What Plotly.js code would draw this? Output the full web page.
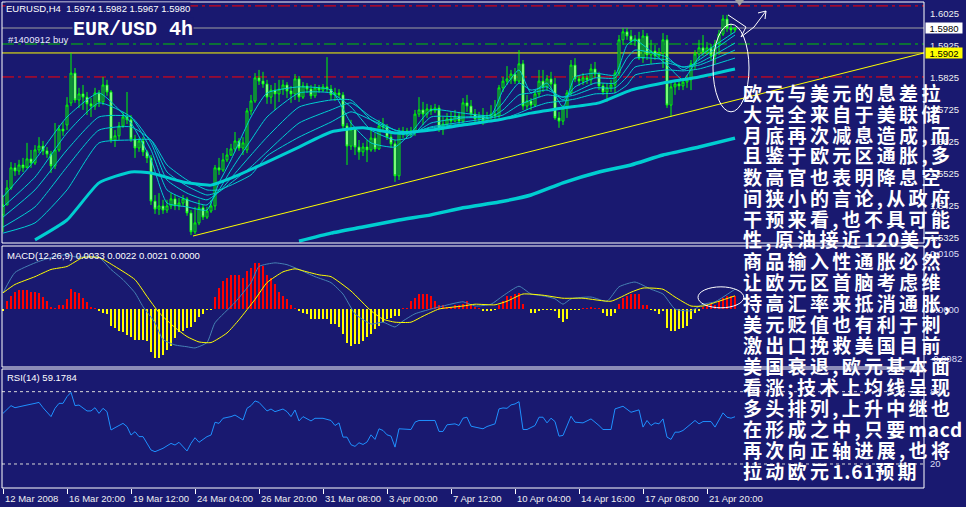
<!DOCTYPE html>
<html><head><meta charset="utf-8">
<script src="https://cdn.plot.ly/plotly-3.0.1.min.js"></script>
<style>
html,body{margin:0;padding:0;background:#191970;overflow:hidden;}
#chart{width:966px;height:507px;}
text.annotation-text[style*="CJK"]{letter-spacing:3.3px;}
</style></head><body><div id="chart"></div>
<script>
// ---------------- DATA ----------------
const opens = [1.5396,1.5427,1.5480,1.5543,1.5533,1.5552,1.5543,1.5571,1.5558,1.5599,
1.5611,1.5596,1.5586,1.5549,1.5599,1.5664,1.5677,1.5746,1.5839,1.5755,
1.5774,1.5764,1.5743,1.5736,1.5777,1.5749,1.5802,1.5780,1.5630,1.5643,
1.5674,1.5702,1.5693,1.5633,1.5605,1.5627,1.5593,1.5574,1.5439,1.5414,
1.5424,1.5411,1.5424,1.5446,1.5424,1.5433,1.5446,1.5402,1.5343,1.5371,
1.5418,1.5389,1.5408,1.5424,1.5543,1.5536,1.5568,1.5583,1.5602,1.5627,
1.5605,1.5599,1.5721,1.5752,1.5824,1.5814,1.5805,1.5764,1.5786,1.5774,
1.5789,1.5802,1.5783,1.5774,1.5821,1.5764,1.5799,1.5789,1.5768,1.5793,
1.5786,1.5796,1.5789,1.5771,1.5777,1.5771,1.5674,1.5611,1.5664,1.5608,
1.5593,1.5608,1.5599,1.5636,1.5602,1.5674,1.5671,1.5639,1.5618,1.5518,
1.5652,1.5658,1.5649,1.5658,1.5711,1.5724,1.5711,1.5727,1.5721,1.5730,
1.5664,1.5680,1.5696,1.5689,1.5705,1.5689,1.5746,1.5736,1.5711,1.5696,
1.5705,1.5689,1.5702,1.5711,1.5705,1.5793,1.5814,1.5821,1.5836,1.5814,
1.5868,1.5736,1.5752,1.5739,1.5774,1.5814,1.5796,1.5821,1.5805,1.5699,
1.5689,1.5730,1.5777,1.5864,1.5821,1.5814,1.5824,1.5818,1.5852,1.5836,
1.5799,1.5780,1.5793,1.5802,1.5839,1.5943,1.5968,1.5955,1.5939,1.5946,
1.5886,1.5955,1.5896,1.5908,1.5893,1.5902,1.5943,1.5739,1.5796,1.5805,
1.5799,1.5811,1.5818,1.5868,1.5899,1.5918,1.5905,1.5918,1.5893,1.5930,
1.5961,1.6008,1.5980,1.5974];
const closes = [1.5427,1.5480,1.5543,1.5533,1.5552,1.5543,1.5571,1.5558,1.5599,1.5611,
1.5596,1.5586,1.5549,1.5599,1.5664,1.5658,1.5739,1.5839,1.5755,1.5774,
1.5764,1.5743,1.5736,1.5777,1.5749,1.5802,1.5780,1.5630,1.5643,1.5674,
1.5702,1.5693,1.5633,1.5605,1.5627,1.5593,1.5574,1.5439,1.5414,1.5424,
1.5411,1.5424,1.5446,1.5424,1.5433,1.5446,1.5402,1.5343,1.5371,1.5418,
1.5389,1.5408,1.5424,1.5543,1.5536,1.5568,1.5583,1.5602,1.5627,1.5605,
1.5621,1.5721,1.5752,1.5824,1.5814,1.5805,1.5764,1.5786,1.5774,1.5789,
1.5802,1.5783,1.5774,1.5821,1.5764,1.5799,1.5789,1.5768,1.5793,1.5786,
1.5796,1.5789,1.5771,1.5777,1.5771,1.5674,1.5611,1.5664,1.5608,1.5593,
1.5608,1.5599,1.5636,1.5602,1.5674,1.5671,1.5639,1.5618,1.5518,1.5652,
1.5658,1.5649,1.5658,1.5711,1.5724,1.5711,1.5727,1.5721,1.5730,1.5664,
1.5680,1.5696,1.5689,1.5705,1.5689,1.5746,1.5736,1.5711,1.5696,1.5705,
1.5689,1.5702,1.5711,1.5705,1.5793,1.5814,1.5821,1.5836,1.5814,1.5868,
1.5736,1.5752,1.5739,1.5774,1.5814,1.5796,1.5821,1.5805,1.5699,1.5689,
1.5730,1.5777,1.5864,1.5821,1.5814,1.5824,1.5818,1.5852,1.5836,1.5799,
1.5780,1.5793,1.5802,1.5839,1.5943,1.5968,1.5955,1.5939,1.5946,1.5886,
1.5955,1.5896,1.5908,1.5893,1.5902,1.5943,1.5739,1.5796,1.5805,1.5799,
1.5811,1.5818,1.5868,1.5899,1.5918,1.5905,1.5918,1.5893,1.5930,1.5961,
1.6008,1.5980,1.5974,1.5980];
const highs = [1.5458,1.5505,1.5561,1.5558,1.5568,1.5574,1.5621,1.5599,1.5614,1.5639,
1.5627,1.5608,1.5596,1.5683,1.5677,1.5686,1.5764,1.5902,1.5855,1.5793,
1.5802,1.5780,1.5761,1.5793,1.5786,1.5827,1.5818,1.5786,1.5661,1.5686,
1.5718,1.5780,1.5708,1.5646,1.5636,1.5639,1.5599,1.5583,1.5458,1.5464,
1.5443,1.5443,1.5464,1.5458,1.5449,1.5458,1.5452,1.5411,1.5421,1.5443,
1.5427,1.5421,1.5443,1.5552,1.5574,1.5589,1.5605,1.5618,1.5655,1.5636,
1.5639,1.5730,1.5771,1.5839,1.5849,1.5843,1.5818,1.5802,1.5808,1.5818,
1.5818,1.5811,1.5799,1.5836,1.5830,1.5811,1.5808,1.5802,1.5805,1.5802,
1.5805,1.5889,1.5802,1.5793,1.5789,1.5780,1.5683,1.5693,1.5671,1.5630,
1.5621,1.5630,1.5671,1.5652,1.5693,1.5699,1.5680,1.5652,1.5630,1.5668,
1.5671,1.5668,1.5671,1.5724,1.5764,1.5749,1.5743,1.5739,1.5743,1.5739,
1.5702,1.5714,1.5718,1.5724,1.5718,1.5761,1.5771,1.5755,1.5727,1.5718,
1.5730,1.5718,1.5739,1.5755,1.5802,1.5827,1.5861,1.5849,1.5855,1.5911,
1.5880,1.5771,1.5761,1.5786,1.5849,1.5849,1.5833,1.5843,1.5824,1.5718,
1.5739,1.5786,1.5880,1.5886,1.5833,1.5839,1.5833,1.5868,1.5874,1.5843,
1.5808,1.5805,1.5818,1.5849,1.5958,1.5980,1.5980,1.5974,1.5958,1.5968,
1.5974,1.5964,1.5943,1.5927,1.5918,1.5964,1.5958,1.5818,1.5818,1.5818,
1.5824,1.5833,1.5880,1.5911,1.5943,1.5958,1.5936,1.5930,1.5943,1.5974,
1.6021,1.6021,1.5993,1.5982];
const lows = [1.5343,1.5427,1.5474,1.5518,1.5521,1.5530,1.5549,1.5543,1.5552,1.5589,
1.5583,1.5574,1.5527,1.5539,1.5593,1.5643,1.5661,1.5736,1.5746,1.5730,
1.5724,1.5708,1.5702,1.5724,1.5733,1.5739,1.5768,1.5621,1.5608,1.5630,
1.5668,1.5680,1.5624,1.5574,1.5593,1.5580,1.5558,1.5427,1.5399,1.5396,
1.5399,1.5402,1.5414,1.5411,1.5411,1.5424,1.5393,1.5333,1.5336,1.5364,
1.5380,1.5383,1.5402,1.5411,1.5521,1.5530,1.5561,1.5580,1.5593,1.5596,
1.5583,1.5589,1.5708,1.5746,1.5802,1.5793,1.5743,1.5743,1.5724,1.5749,
1.5771,1.5761,1.5746,1.5755,1.5749,1.5758,1.5777,1.5758,1.5761,1.5777,
1.5780,1.5780,1.5755,1.5752,1.5761,1.5661,1.5552,1.5599,1.5583,1.5568,
1.5580,1.5561,1.5593,1.5593,1.5599,1.5655,1.5630,1.5605,1.5499,1.5505,
1.5636,1.5639,1.5639,1.5643,1.5702,1.5677,1.5699,1.5708,1.5714,1.5655,
1.5646,1.5671,1.5677,1.5686,1.5677,1.5683,1.5718,1.5699,1.5683,1.5680,
1.5677,1.5683,1.5693,1.5696,1.5699,1.5780,1.5802,1.5805,1.5805,1.5808,
1.5724,1.5724,1.5724,1.5733,1.5764,1.5780,1.5786,1.5786,1.5693,1.5668,
1.5677,1.5699,1.5771,1.5811,1.5799,1.5802,1.5805,1.5802,1.5824,1.5786,
1.5771,1.5749,1.5780,1.5777,1.5830,1.5927,1.5943,1.5927,1.5924,1.5880,
1.5871,1.5880,1.5868,1.5880,1.5886,1.5855,1.5730,1.5702,1.5771,1.5786,
1.5786,1.5793,1.5786,1.5849,1.5880,1.5893,1.5896,1.5880,1.5868,1.5896,
1.5955,1.5968,1.5961,1.5967];

// moving averages (bar index -> price)
const maIdx = [0,8,16,24,32,37,41,46,51,54,57,62,66,74,82,87,92,98,102,107,115,122,125,129,132,136,140,143,148,153,156,158,166,170,174,183];
const ma1 = [1.5452,1.5568,1.5702,1.5777,1.5683,1.5568,1.5433,1.5421,1.5411,1.5496,1.5568,1.5702,1.5777,1.5796,1.5786,1.5683,1.5621,1.5608,1.5652,1.5724,1.5714,1.5708,1.5786,1.5849,1.5777,1.5808,1.5733,1.5827,1.5839,1.5833,1.5927,1.5943,1.5864,1.5818,1.5889,1.5968];
const ma2 = [1.5421,1.5514,1.5652,1.5746,1.5702,1.5599,1.5474,1.5443,1.5427,1.5474,1.5536,1.5630,1.5702,1.5777,1.5777,1.5733,1.5661,1.5630,1.5639,1.5702,1.5702,1.5708,1.5746,1.5808,1.5786,1.5796,1.5755,1.5796,1.5824,1.5824,1.5886,1.5911,1.5889,1.5849,1.5880,1.5958];
const ma3 = [1.5389,1.5474,1.5599,1.5702,1.5702,1.5621,1.5505,1.5464,1.5443,1.5468,1.5511,1.5583,1.5639,1.5733,1.5755,1.5755,1.5693,1.5652,1.5646,1.5683,1.5699,1.5702,1.5724,1.5771,1.5777,1.5786,1.5764,1.5780,1.5808,1.5808,1.5855,1.5886,1.5880,1.5858,1.5871,1.5933];
const ma4 = [1.5358,1.5421,1.5546,1.5661,1.5671,1.5630,1.5530,1.5486,1.5458,1.5468,1.5496,1.5546,1.5593,1.5683,1.5724,1.5746,1.5702,1.5661,1.5652,1.5671,1.5686,1.5699,1.5708,1.5739,1.5755,1.5771,1.5764,1.5771,1.5793,1.5793,1.5827,1.5858,1.5871,1.5858,1.5864,1.5911];
const ma5 = [1.5339,1.5371,1.5474,1.5621,1.5630,1.5630,1.5552,1.5505,1.5474,1.5474,1.5489,1.5521,1.5580,1.5639,1.5686,1.5718,1.5693,1.5661,1.5655,1.5668,1.5680,1.5689,1.5696,1.5714,1.5730,1.5746,1.5752,1.5758,1.5774,1.5777,1.5802,1.5833,1.5849,1.5846,1.5852,1.5886];
const bandIdx = [8,16,24,32,37,45,52,57,66,74,82,90,98,107,115,124,132,140,149,157,165,174,183];
const bandVal = [1.5318,1.5380,1.5496,1.5530,1.5527,1.5499,1.5489,1.5511,1.5561,1.5608,1.5655,1.5668,1.5652,1.5661,1.5677,1.5693,1.5714,1.5730,1.5746,1.5786,1.5808,1.5827,1.5852];
const longIdx = [74,82,90,99,107,115,124,132,140,149,157,165,174,183];
const longVal = [1.5314,1.5339,1.5358,1.5380,1.5396,1.5418,1.5436,1.5458,1.5496,1.5530,1.5552,1.5583,1.5608,1.5636];

// drawn objects
const trendX = [47.5, 230.25];
const trendY = [1.5330, 1.5902];
const levelPrices = [1.6049, 1.5980, 1.5930, 1.5902, 1.5827];
const arrowX = [181.25, 185.75, 184.5, 187.75, 190.75];
const arrowY = [1.6021, 1.5983, 1.5952, 1.5983, 1.6033];
const arrowHeadX = [188.75, 190.75, 190.5];
const arrowHeadY = [1.6027, 1.6033, 1.6008];

// MACD histogram
const hist = [-0.0004,0.0013,0.0022,0.0029,0.0032,0.0032,0.0032,0.0029,0.0029,0.0027,
0.0020,0.0013,0.0003,0.0001,0.0006,0.0007,0.0017,0.0034,0.0029,0.0027,
0.0018,0.0011,0.0003,0.0001,-0.0004,-0.0007,-0.0008,-0.0029,-0.0032,-0.0036,
-0.0039,-0.0043,-0.0047,-0.0051,-0.0051,-0.0051,-0.0054,-0.0071,-0.0081,-0.0082,
-0.0076,-0.0068,-0.0062,-0.0048,-0.0039,-0.0036,-0.0032,-0.0030,-0.0021,-0.0013,
-0.0009,-0.0002,-0.0001,0.0020,0.0035,0.0046,0.0052,0.0057,0.0057,0.0057,
0.0052,0.0063,0.0068,0.0076,0.0076,0.0071,0.0057,0.0052,0.0041,0.0029,
0.0021,0.0016,0.0006,0.0002,-0.0004,-0.0006,-0.0008,-0.0017,-0.0017,-0.0017,
-0.0017,-0.0017,-0.0025,-0.0025,-0.0030,-0.0042,-0.0056,-0.0061,-0.0058,-0.0058,
-0.0053,-0.0047,-0.0042,-0.0033,-0.0028,-0.0022,-0.0017,-0.0015,-0.0011,-0.0011,
0.0002,0.0001,0.0014,0.0019,0.0025,0.0025,0.0025,0.0022,0.0014,0.0006,
0.0006,0.0004,0.0004,0.0006,0.0007,0.0009,0.0013,0.0008,0.0004,0.0002,
-0.0003,-0.0003,-0.0003,-0.0002,0.0006,0.0013,0.0021,0.0022,0.0025,0.0027,
0.0009,0.0000,-0.0006,-0.0007,-0.0003,-0.0002,-0.0001,-0.0001,-0.0003,-0.0015,
-0.0022,-0.0017,-0.0001,-0.0001,-0.0001,0.0002,0.0002,0.0003,0.0002,0.0001,
-0.0006,-0.0011,-0.0011,-0.0006,0.0009,0.0019,0.0022,0.0025,0.0025,0.0025,
0.0007,0.0007,-0.0002,-0.0003,-0.0008,-0.0003,-0.0031,-0.0037,-0.0037,-0.0033,
-0.0031,-0.0028,-0.0017,-0.0006,-0.0003,0.0003,0.0007,0.0008,0.0006,0.0014,
0.0019,0.0021,0.0021,0.0021];
const macdIdx = [0,3,8,12,16,18,24,27,30,33,35,38,40,43,46,48,51,53,58,62,64,68,71,74,78,82,85,88,92,95,98,100,103,107,110,115,118,122,125,129,132,135,138,140,142,147,151,154,158,162,165,168,172,175,178,183];
const macdVal = [0.0027,0.0061,0.0077,0.0086,0.0091,0.0087,0.0086,0.0066,0.0049,0.0027,0.0004,-0.0023,-0.0051,-0.0060,-0.0063,-0.0065,-0.0056,-0.0023,0.0011,0.0044,0.0071,0.0077,0.0074,0.0066,0.0054,0.0044,0.0025,-0.0008,-0.0025,-0.0022,-0.0030,-0.0020,-0.0008,0.0000,0.0005,0.0012,0.0005,0.0008,0.0022,0.0038,0.0025,0.0022,0.0017,0.0008,0.0017,0.0020,0.0013,0.0037,0.0045,0.0033,0.0025,0.0000,-0.0003,0.0008,0.0012,0.0033];
const signalIdx = [0,3,8,12,16,20,24,28,33,36,39,43,46,49,52,56,59,63,66,70,73,76,79,82,87,92,95,98,102,105,109,115,118,123,126,130,135,140,145,152,157,160,165,168,172,175,179,183];
const signalVal = [0.0027,0.0041,0.0054,0.0066,0.0071,0.0086,0.0086,0.0071,0.0049,0.0021,-0.0006,-0.0031,-0.0046,-0.0055,-0.0056,-0.0040,-0.0018,0.0016,0.0044,0.0062,0.0067,0.0062,0.0057,0.0054,0.0030,-0.0003,-0.0017,-0.0022,-0.0022,-0.0012,0.0000,0.0005,0.0008,0.0007,0.0013,0.0025,0.0023,0.0018,0.0018,0.0013,0.0028,0.0035,0.0033,0.0020,0.0005,0.0005,0.0013,0.0022];

// RSI(14)
const rsiIdx = [0,2,3,4,6,8,9,10,12,13,14,15,16,17,18,19,20,21,22,23,24,25,26,27,28,30,31,32,33,34,35,37,38,39,40,42,43,44,45,46,47,48,49,51,52,53,54,55,57,58,60,61,62,63,64,66,67,68,70,71,72,73,74,75,77,78,80,82,83,84,85,86,87,88,89,90,91,92,93,94,95,96,97,98,99,100,102,103,104,106,108,109,110,111,113,114,115,116,117,118,120,121,123,124,125,126,127,128,129,130,131,133,134,135,136,137,138,139,140,142,143,145,147,149,150,152,153,155,156,157,159,160,161,162,163,164,165,166,167,168,169,170,172,173,174,175,176,177,178,180,181,182,183];
const rsiVal = [62.0,68.4,66.7,67.6,68.9,70.3,71.1,66.7,59.3,66.2,70.3,70.3,75.9,79.4,68.4,68.9,66.2,64.0,64.0,66.7,62.0,66.2,63.4,48.2,50.1,53.7,51.0,44.0,46.8,42.7,42.7,31.6,30.2,31.6,33.0,37.1,35.7,38.0,34.4,30.8,37.1,41.8,38.0,42.7,44.0,54.6,53.7,57.9,59.3,60.6,56.5,66.2,68.4,72.3,71.1,64.0,65.6,63.4,65.6,63.4,59.3,64.8,55.7,59.3,55.7,57.9,57.9,56.1,51.9,54.1,42.3,42.3,36.0,34.6,37.6,36.2,38.2,44.2,40.4,49.2,47.8,44.2,43.1,34.0,49.2,49.2,48.6,54.7,56.1,56.1,56.1,47.0,47.0,52.5,53.3,51.9,58.0,58.8,51.4,50.6,49.2,51.1,53.3,65.7,66.5,66.2,69.0,69.8,71.7,48.6,48.6,51.9,58.8,58.8,54.1,58.0,55.2,43.1,43.7,59.6,54.7,54.1,57.4,51.9,48.6,48.6,65.7,67.9,65.7,62.9,64.9,50.6,56.1,51.9,54.1,53.3,57.4,42.3,40.4,46.4,46.4,47.8,53.3,56.1,53.3,55.2,55.2,55.2,50.6,62.4,58.8,58.0,59.2];
const rsiLevels = [80, 20];

// texts / tick labels
const headerText = 'EURUSD,H4\u00a0 1.5974 1.5982 1.5967 1.5980';
const orderText = '#1400912 buy';
const titleText = 'EUR/USD 4h';
const macdText = 'MACD(12,26,9) 0.0033 0.0022 0.0021 0.0000';
const rsiText = 'RSI(14) 59.1784';
const xTickIdx = [0,16,32,48,64,80,96,112,128,144,160,176];
const xTickLabels = ['12 Mar 2008','16 Mar 20:00','19 Mar 12:00','24 Mar 04:00','26 Mar 20:00','31 Mar 08:00','3 Apr 00:00','7 Apr 12:00','10 Apr 04:00','14 Apr 16:00','17 Apr 08:00','21 Apr 20:00'];
const priceTicks = ['1.6025','1.5925','1.5825','1.5725','1.5625','1.5525','1.5425','1.5325'];
const bidLabel = '1.5980';
const orderLabel = '1.5902';
const macdTicks = ['0.0105','0.0000','-0.0082'];
const rsiTicks = ['100','80','20','0'];
const noteLines = ['欧元与美元的息差拉','大完全来自于美联储','月底再次减息造成,而','且鉴于欧元区通胀,多','数高官也表明降息空','间狭小的言论,从政府','干预来看,也不具可能','性,原油接近120美元','商品输入性通胀必然','让欧元区首脑考虑维','持高汇率来抵消通胀,','美元贬值也有利于刺','激出口挽救美国目前','美国衰退,欧元基本面','看涨;技术上均线呈现','多头排列,上升中继也','在形成之中,只要macd','再次向正轴进展,也将','拉动欧元1.61预期'];

// ---------------- LAYOUT HELPERS ----------------
const BG = '#191970';
const W = 966, H = 507, ML = 2, MR = 42, MT = 2, MB = 19;
const PW = W - ML - MR, PH = H - MT - MB;
const px = x => (x - ML) / PW;
const py = y => (H - MB - y) / PH;
const barIdx = opens.map((_, i) => i);
const cyan = '#00ced1';
const uiFont = 'Liberation Sans, Arial, sans-serif';
// latin runs inside the CJK note are drawn tighter (half-width look)
const tightLatin = s => s.replace(/([A-Za-z0-9.]+)/g, '<span style="letter-spacing:0.8px">$1</span>');

const traces = [];
traces.push({type:'candlestick', x:barIdx, open:opens, high:highs, low:lows, close:closes,
  xaxis:'x', yaxis:'y', whiskerwidth:0, hoverinfo:'skip',
  increasing:{line:{color:'#00ff00', width:1}, fillcolor:BG},
  decreasing:{line:{color:'#00ff00', width:1}, fillcolor:'#ffffff'}});
[ma5, ma4, ma3, ma2, ma1].forEach(arr => traces.push({type:'scatter', mode:'lines', x:maIdx, y:arr,
  xaxis:'x', yaxis:'y', hoverinfo:'skip', line:{color:cyan, width:1, shape:'spline', smoothing:0.5}}));
traces.push({type:'scatter', mode:'lines', x:bandIdx, y:bandVal, xaxis:'x', yaxis:'y', hoverinfo:'skip',
  line:{color:cyan, width:3, shape:'spline', smoothing:0.5}});
traces.push({type:'scatter', mode:'lines', x:longIdx, y:longVal, xaxis:'x', yaxis:'y', hoverinfo:'skip',
  line:{color:cyan, width:3.5, shape:'spline', smoothing:0.5}});
traces.push({type:'scatter', mode:'lines', x:trendX, y:trendY, xaxis:'x', yaxis:'y', hoverinfo:'skip',
  line:{color:'#ffff00', width:1}});
traces.push({type:'scatter', mode:'lines', x:arrowX, y:arrowY, xaxis:'x', yaxis:'y', hoverinfo:'skip',
  line:{color:'#ffffff', width:1}});
traces.push({type:'scatter', mode:'lines', x:arrowHeadX, y:arrowHeadY, xaxis:'x', yaxis:'y', hoverinfo:'skip',
  line:{color:'#ffffff', width:1}});

// MACD
traces.push({type:'bar', x:barIdx, y:hist.map(v => v > 0 ? v : null), width:0.3, xaxis:'x', yaxis:'y2',
  marker:{color:'#ff0000', line:{width:0}}, hoverinfo:'skip'});
traces.push({type:'bar', x:barIdx, y:hist.map(v => v < 0 ? v : null), width:0.3, xaxis:'x', yaxis:'y2',
  marker:{color:'#ffff00', line:{width:0}}, hoverinfo:'skip'});
traces.push({type:'scatter', mode:'lines', x:macdIdx, y:macdVal, xaxis:'x', yaxis:'y2', hoverinfo:'skip',
  line:{color:'#4682b4', width:1, shape:'spline', smoothing:0.5}});
traces.push({type:'scatter', mode:'lines', x:signalIdx, y:signalVal, xaxis:'x', yaxis:'y2', hoverinfo:'skip',
  line:{color:'#ffff00', width:1, shape:'spline', smoothing:0.5}});

// RSI
traces.push({type:'scatter', mode:'lines', x:rsiIdx, y:rsiVal, xaxis:'x', yaxis:'y3', hoverinfo:'skip',
  line:{color:'#1e90ff', width:1}});

// ---------------- SHAPES ----------------
const shapes = [];
const dashDot = '12px,4px,3px,4px';
const levelStyles = [
  {color:'#ff0000', width:1, dash:dashDot},
  {color:'#a0a0a0', width:1, dash:'solid'},
  {color:'#00c800', width:1, dash:dashDot},
  {color:'#ffff00', width:1, dash:'solid'},
  {color:'#ff0000', width:1, dash:dashDot}];
levelPrices.forEach((p, k) => shapes.push({type:'line', xref:'paper', x0:0, x1:1, yref:'y', y0:p, y1:p,
  line:levelStyles[k], layer:'below'}));
rsiLevels.forEach(v => shapes.push({type:'line', xref:'paper', x0:0, x1:1, yref:'y3', y0:v, y1:v,
  line:{color:'#d8d8d8', width:1, dash:'3px,3px'}, layer:'below'}));
[[2,243],[246,367],[369,488]].forEach(([t,b]) => shapes.push({type:'rect', xref:'paper', yref:'paper',
  x0:0, x1:1, y0:py(b), y1:py(t), line:{color:'#ffffff', width:1}, fillcolor:'rgba(0,0,0,0)', layer:'above'}));
shapes.push({type:'circle', xref:'x', yref:'y', x0:177.5, x1:186.5, y0:1.5718, y1:1.5992,
  line:{color:'#ffffff', width:1}, layer:'above'});
shapes.push({type:'circle', xref:'x', yref:'y2', x0:173.75, x1:185.2, y0:0.0002, y1:0.0037,
  line:{color:'#ffffff', width:1}, layer:'above'});
shapes.push({type:'path', xref:'paper', yref:'paper',
  path:`M ${px(735)} ${py(0)} L ${px(744)} ${py(0)} L ${px(739.5)} ${py(6)} Z`,
  fillcolor:'#a0a0a0', line:{width:0}, layer:'above'});

// ---------------- ANNOTATIONS ----------------
const ann = [];
const txt = (o) => Object.assign({showarrow:false, xanchor:'left', yanchor:'middle'}, o);
ann.push(txt({xref:'paper', yref:'paper', x:px(5), y:py(9), text:headerText, bgcolor:BG, borderpad:0,
  font:{family:uiFont, size:9.5, color:'#ffffff'}}));
ann.push(txt({xref:'paper', yref:'paper', x:px(6), y:py(39), text:orderText,
  font:{family:uiFont, size:9.5, color:'#e6e6ff'}}));
ann.push(txt({xref:'paper', yref:'paper', x:px(72), y:py(29), text:titleText, bgcolor:BG, borderpad:0,
  font:{family:'Liberation Mono, DejaVu Sans Mono, monospace', size:20, color:'#ffffff', weight:'bold'}}));
ann.push(txt({xref:'paper', yref:'paper', x:px(5), y:py(255), text:macdText,
  font:{family:uiFont, size:9.5, color:'#ffffff'}}));
ann.push(txt({xref:'paper', yref:'paper', x:px(5), y:py(377), text:rsiText,
  font:{family:uiFont, size:9.5, color:'#ffffff'}}));
xTickIdx.forEach((xi, k) => ann.push(txt({xref:'x', yref:'paper', x:xi, y:py(498), text:xTickLabels[k],
  font:{family:uiFont, size:9.5, color:'#f0f0f0'}})));
priceTicks.forEach(t => ann.push(txt({xref:'paper', yref:'y', x:1, xshift:4, y:parseFloat(t), text:t,
  font:{family:uiFont, size:9.5, color:'#f0f0f0'}})));
ann.push(txt({xref:'paper', yref:'y', x:1, xshift:1, y:parseFloat(bidLabel), text:bidLabel, bgcolor:'#ffffff',
  width:36, height:10, borderpad:0, align:'center', font:{family:uiFont, size:9.5, color:'#000000'}}));
ann.push(txt({xref:'paper', yref:'y', x:1, xshift:1, y:parseFloat(orderLabel), text:orderLabel, bgcolor:'#ffff00',
  width:36, height:10, borderpad:0, align:'center', font:{family:uiFont, size:9.5, color:'#000000'}}));
macdTicks.forEach((t, k) => ann.push(txt({xref:'paper', yref:'y2', x:1, xshift:4, y:parseFloat(t), text:t,
  yanchor: k === 0 ? 'top' : 'middle', font:{family:uiFont, size:9.5, color:'#dcdcf5'}})));
rsiTicks.forEach((t, k) => ann.push(txt({xref:'paper', yref:'y3', x:1, xshift:4, y:parseFloat(t), text:t,
  yanchor: k === 0 ? 'top' : (k === rsiTicks.length - 1 ? 'bottom' : 'middle'),
  font:{family:uiFont, size:9.5, color:'#dcdcf5'}})));
noteLines.forEach((line, k) => ann.push(txt({xref:'paper', yref:'paper', x:px(741), y:py(92 + 21 * k),
  text:tightLatin(line), font:{family:'Noto Sans CJK SC, sans-serif', size:19, color:'#ffffff', weight:'bold'}})));

const axisOff = {showgrid:false, zeroline:false, showticklabels:false, ticks:'', showline:false, fixedrange:true};
const layout = {
  width:W, height:H, margin:{l:ML, r:MR, t:MT, b:MB, pad:0},
  paper_bgcolor:BG, plot_bgcolor:BG, showlegend:false, barmode:'overlay', bargap:0,
  xaxis:{range:[-0.25, 230.25], showgrid:false, zeroline:false, showline:false, showticklabels:false,
    ticks:'outside', tickmode:'array', tickvals:xTickIdx, ticklen:5, tickwidth:1, tickcolor:'#ffffff',
    anchor:'y3', rangeslider:{visible:false}, fixedrange:true},
  yaxis:Object.assign({domain:[py(243), 1], range:[1.5308125, 1.606125]}, axisOff),
  yaxis2:Object.assign({domain:[py(367), py(246)], range:[-0.009683, 0.010518]}, axisOff),
  yaxis3:Object.assign({domain:[0, py(369)], range:[0.08, 98.8]}, axisOff),
  shapes:shapes, annotations:ann
};
Plotly.newPlot('chart', traces, layout, {staticPlot:true, displayModeBar:false});
</script></body></html>
